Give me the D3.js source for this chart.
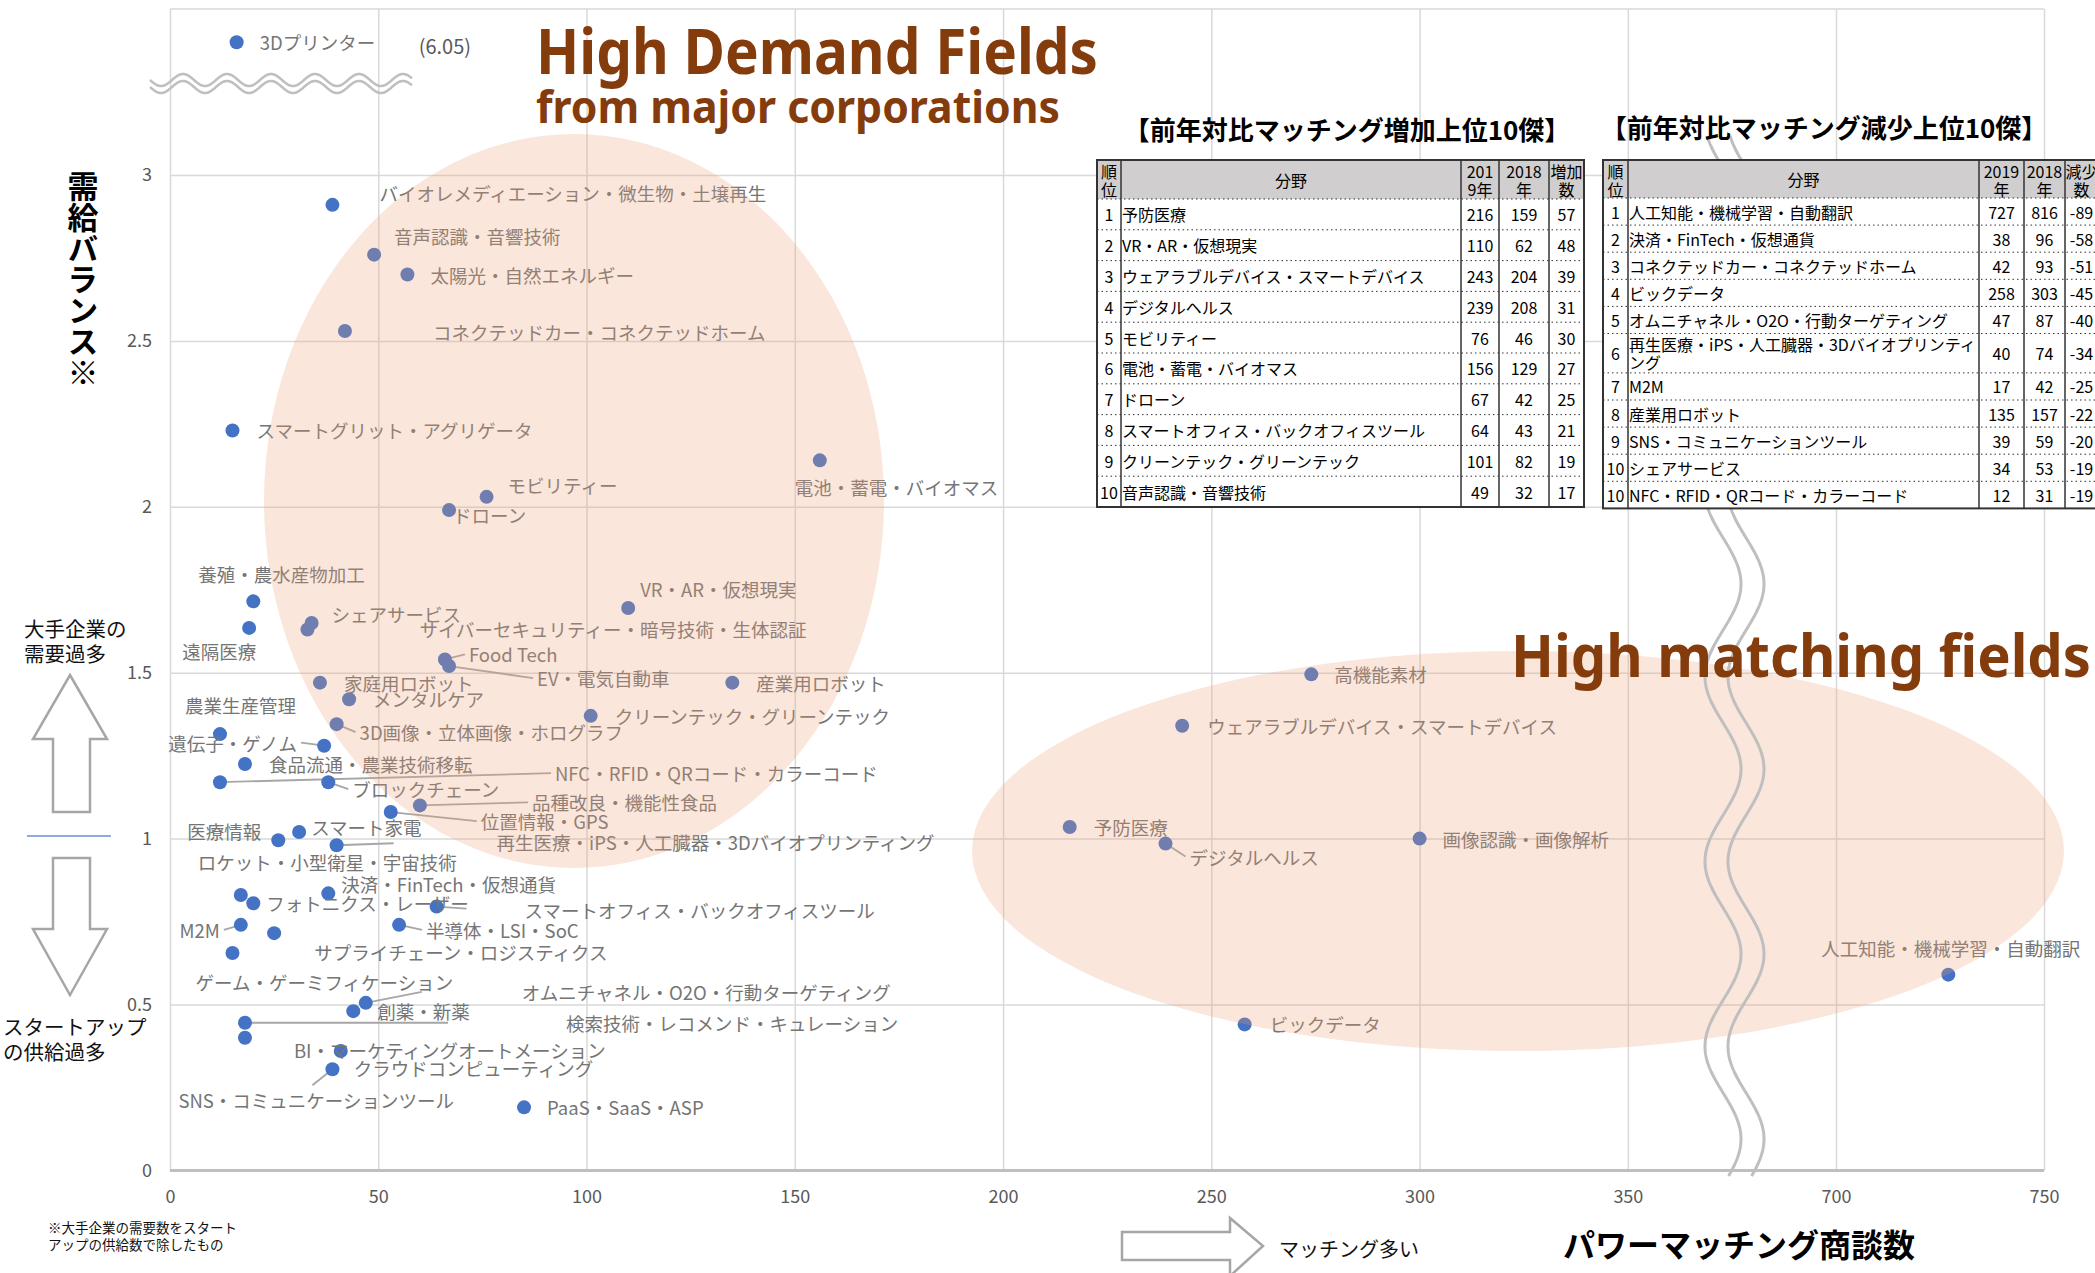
<!DOCTYPE html>
<html>
<head>
<meta charset="utf-8">
<script src="https://cdn.jsdelivr.net/npm/d3@7"></script>
<style>
  body { margin: 0; background: #fff; }
  svg { display: block; }
</style>
</head>
<body>
<script>
// ---- scatter data: field, 2019 matching count, demand/supply balance ----
const fields = [
  'バイオレメディエーション・微生物・土壌再生', '音声認識・音響技術', '太陽光・自然エネルギー',
  'コネクテッドカー・コネクテッドホーム', 'スマートグリット・アグリゲータ', '電池・蓄電・バイオマス',
  'モビリティー', 'ドローン', '養殖・農水産物加工', '遠隔医療', 'シェアサービス',
  'サイバーセキュリティー・暗号技術・生体認証', 'VR・AR・仮想現実', 'Food Tech', 'EV・電気自動車',
  '産業用ロボット', '家庭用ロボット', 'メンタルケア', 'クリーンテック・グリーンテック',
  '3D画像・立体画像・ホログラフ', '農業生産管理', '遺伝子・ゲノム', '食品流通・農業技術移転',
  'NFC・RFID・QRコード・カラーコード', 'ブロックチェーン', '品種改良・機能性食品', '位置情報・GPS',
  'スマート家電', '医療情報', '再生医療・iPS・人工臓器・3Dバイオプリンティング',
  'ロケット・小型衛星・宇宙技術', 'フォトニクス・レーザー', '決済・FinTech・仮想通貨',
  'スマートオフィス・バックオフィスツール', 'M2M', '半導体・LSI・SoC', 'サプライチェーン・ロジスティクス',
  'ゲーム・ゲーミフィケーション', 'オムニチャネル・O2O・行動ターゲティング', '創薬・新薬',
  '検索技術・レコメンド・キュレーション', 'BI・マーケティングオートメーション', 'クラウドコンピューティング',
  'SNS・コミュニケーションツール', 'PaaS・SaaS・ASP', '高機能素材', 'ウェアラブルデバイス・スマートデバイス',
  '予防医療', 'デジタルヘルス', '画像認識・画像解析', '人工知能・機械学習・自動翻訳', 'ビックデータ',
  '3Dプリンター'
];
const matching = [
  39, 49, 57, 42, 15, 156, 76, 67, 20, 19, 34, 33, 110, 66, 67, 135, 36, 43, 101, 40, 12, 37, 18,
  12, 38, 60, 53, 31, 26, 40, 17, 20, 38, 64, 17, 55, 25, 15, 47, 44, 18, 18, 41, 39, 85,
  274, 243, 216, 239, 300, 727, 258, 16
];
const balance = [
  2.91, 2.76, 2.70, 2.53, 2.23, 2.14, 2.03, 1.99, 1.715, 1.635, 1.65, 1.63, 1.695, 1.54, 1.52,
  1.47, 1.47, 1.42, 1.37, 1.345, 1.315, 1.28, 1.225, 1.17, 1.17, 1.10, 1.08, 1.02, 0.995, 0.98,
  0.83, 0.805, 0.835, 0.795, 0.74, 0.74, 0.715, 0.655, 0.505, 0.48, 0.445, 0.40, 0.36, 0.305, 0.19,
  1.495, 1.34, 1.035, 0.985, 1.0, 0.59, 0.44, 6.05
];

// axis ticks
const xTicks = [0, 50, 100, 150, 200, 250, 300, 350, 700, 750];
const yTicks = [0, 0.5, 1, 1.5, 2, 2.5, 3];

// ---- tables ----
const incRank = [1, 2, 3, 4, 5, 6, 7, 8, 9, 10];
const incField = ['予防医療', 'VR・AR・仮想現実', 'ウェアラブルデバイス・スマートデバイス', 'デジタルヘルス',
  'モビリティー', '電池・蓄電・バイオマス', 'ドローン', 'スマートオフィス・バックオフィスツール',
  'クリーンテック・グリーンテック', '音声認識・音響技術'];
const inc2019 = [216, 110, 243, 239, 76, 156, 67, 64, 101, 49];
const inc2018 = [159, 62, 204, 208, 46, 129, 42, 43, 82, 32];
const incDiff = [57, 48, 39, 31, 30, 27, 25, 21, 19, 17];

const decRank = [1, 2, 3, 4, 5, 6, 7, 8, 9, 10, 10];
const decField = ['人工知能・機械学習・自動翻訳', '決済・FinTech・仮想通貨', 'コネクテッドカー・コネクテッドホーム',
  'ビックデータ', 'オムニチャネル・O2O・行動ターゲティング', '再生医療・iPS・人工臓器・3Dバイオプリンティング',
  'M2M', '産業用ロボット', 'SNS・コミュニケーションツール', 'シェアサービス', 'NFC・RFID・QRコード・カラーコード'];
const dec2019 = [727, 38, 42, 258, 47, 40, 17, 135, 39, 34, 12];
const dec2018 = [816, 96, 93, 303, 87, 74, 42, 157, 59, 53, 31];
const decDiff = [-89, -58, -51, -45, -40, -34, -25, -22, -20, -19, -19];

// label placement relative to each dot: [dx, dy, anchor, leader end]
const labelLayout = [
  [47, -12], [20, -19], [23, 0], [88, 1], [24, 0], [-25, 27], [21, -12], [4, 5], [-55, -27],
  [-67, 23], [20, -9], [112, -1], [12, -19], [24, -5, 'start', 'auto'], [88, 12, 'start', 'auto'],
  [24, 0], [24, 0], [24, 0], [24, 0], [23, 8, 'start', 'auto'], [-35, -29],
  [-27, -3, 'end', 'auto'], [24, 0], [335, -9, 'start', 'auto'], [24, 7, 'start', 'auto'],
  [112, -3, 'start', 'auto'], [90, 9, 'start', 'auto'], [12, -5], [-91, -9],
  [160, -3, 'start', [57, -2]], [-43, -33], [13, 0], [13, -9], [88, 3, 'start', [30, 2]],
  [-21, 5, 'end', 'auto'], [27, 5, 'start', 'auto'], [40, 19], [-37, 29],
  [156, -11, 'start', [56, -11]], [24, 0], [321, 0, 'start', [203, 0]], [49, 12], [13, 17],
  [-154, 31, 'start', [-20, 16]], [23, 0], [23, 0], [25, 0], [24, 0], [24, 13, 'start', [20, 13]],
  [23, 0], [132, -27, 'end'], [25, 0], [23, 0]
];

const W = 2095, H = 1273;
const FONT = '"Noto Sans CJK JP", "Noto Sans", sans-serif';

// broken x axis: 375..675 collapsed
const x = d3.scaleLinear().domain([0, 375, 675, 750]).range([170, 1732, 1732, 2044]);
// broken y axis: 3.3..5.95 collapsed
const unit = 331.8, y0 = 1170.4;
const y = d3.scaleLinear().domain([0, 3.3, 5.95, 6.15])
  .range([y0, y0 - 3.3 * unit, y0 - 3.3 * unit, y0 - 3.5 * unit]);

const plot = { left: x(0), right: x(750), top: y(6.15), bottom: y(0) };

const svg = d3.select('body').append('svg')
  .attr('width', W).attr('height', H)
  .style('font-family', FONT);

// gridlines + tick labels
svg.append('g')
  .attr('transform', `translate(0,${plot.bottom})`)
  .call(d3.axisBottom(x).tickValues(xTicks).tickSize(-(plot.bottom - plot.top)).tickPadding(20).tickFormat(d => d))
  .call(g => g.select('.domain').remove())
  .call(g => g.selectAll('line').attr('stroke', '#D9D9D9').attr('stroke-width', 1.5))
  .call(g => g.selectAll('text').attr('fill', '#595959').attr('font-size', 18).attr('font-family', FONT));

svg.append('g')
  .attr('transform', `translate(${plot.left},0)`)
  .call(d3.axisLeft(y).tickValues(yTicks).tickSize(-(plot.right - plot.left)).tickPadding(18).tickFormat(d => String(d)))
  .call(g => g.select('.domain').remove())
  .call(g => g.selectAll('line').attr('stroke', '#D9D9D9').attr('stroke-width', 1.5))
  .call(g => g.selectAll('text').attr('fill', '#595959').attr('font-size', 18).attr('font-family', FONT));

svg.append('line')
  .attr('x1', plot.left).attr('x2', plot.right).attr('y1', plot.top).attr('y2', plot.top)
  .attr('stroke', '#D9D9D9').attr('stroke-width', 1.5);
svg.append('line')
  .attr('x1', plot.left).attr('x2', plot.right).attr('y1', plot.bottom).attr('y2', plot.bottom)
  .attr('stroke', '#BFBFBF').attr('stroke-width', 3);

// dots, labels, leader lines
const dots = fields.map((f, i) => ({ name: f, mx: matching[i], bal: balance[i], lay: labelLayout[i] }));

const leaders = svg.append('g');
dots.forEach(d => {
  const [dx, dy, anchor = 'start', lead] = d.lay;
  if (!lead) return;
  const end = lead === 'auto' ? [anchor === 'end' ? dx + 4 : dx - 4, dy] : lead;
  leaders.append('line')
    .attr('x1', x(d.mx)).attr('y1', y(d.bal))
    .attr('x2', x(d.mx) + end[0]).attr('y2', y(d.bal) + end[1])
    .attr('stroke', '#A6A6A6').attr('stroke-width', 1.8);
});

svg.append('g').selectAll('circle')
  .data(dots).join('circle')
  .attr('cx', d => x(d.mx)).attr('cy', d => y(d.bal)).attr('r', 7)
  .attr('fill', '#4472C4');

svg.append('g').selectAll('text')
  .data(dots).join('text')
  .attr('x', d => x(d.mx) + d.lay[0])
  .attr('y', d => y(d.bal) + d.lay[1])
  .attr('text-anchor', d => d.lay[2] || 'start')
  .attr('dominant-baseline', 'central')
  .attr('font-size', 18.5)
  .attr('fill', '#757575')
  .text(d => d.name);

// value of the off-scale dot
const printer = dots[dots.length - 1];
svg.append('text')
  .attr('x', x(printer.mx) + 182).attr('y', y(printer.bal) + 3)
  .attr('dominant-baseline', 'central')
  .attr('font-size', 20).attr('fill', '#595959')
  .text('(' + printer.bal.toFixed(2) + ')');

// translucent highlight ellipses
svg.append('ellipse')
  .attr('cx', 574).attr('cy', 501).attr('rx', 310).attr('ry', 367)
  .attr('fill', 'rgb(236,160,114)').attr('fill-opacity', 0.26);
svg.append('ellipse')
  .attr('cx', 1518).attr('cy', 851).attr('rx', 546).attr('ry', 200)
  .attr('fill', 'rgb(236,160,114)').attr('fill-opacity', 0.26);

// axis break marks
const line = d3.line();
[1723, 1746].forEach(cx => {
  const pts = d3.range(136, 1177, 2).map(yy => [cx + 18 * Math.cos(2 * Math.PI * (yy - 584) / 185), yy]);
  svg.append('path').attr('d', line(pts))
    .attr('fill', 'none').attr('stroke', '#BFBFBF').attr('stroke-width', 3);
});
[80, 87].forEach(cy => {
  const pts = d3.range(150, 414, 2).map(xx => [xx, cy + 6 * Math.sin(2 * Math.PI * (xx - 150) / 44)]);
  svg.append('path').attr('d', line(pts))
    .attr('fill', 'none').attr('stroke', '#BFBFBF').attr('stroke-width', 2.5);
});

// ---- tables ----
function drawTable(cfg) {
  const g = svg.append('g');
  const { cols, top, headH, rowH, wrapH, header, rows, fs } = cfg;
  const left = cols[0], right = cols[cols.length - 1];

  // measure for wrapping
  const probe = g.append('text').attr('font-size', fs);
  const fieldW = cols[2] - cols[1] - 4;
  const lines = rows.map(r => {
    probe.text(r[1]);
    if (probe.node().getComputedTextLength() <= fieldW) return [r[1]];
    const chars = Array.from(r[1]);
    let a = '';
    for (const c of chars) {
      probe.text(a + c);
      if (probe.node().getComputedTextLength() > fieldW) break;
      a += c;
    }
    return [a, r[1].slice(a.length)];
  });
  probe.remove();

  const heights = lines.map(l => l.length > 1 ? wrapH : rowH);
  const ys = [top + headH];
  heights.forEach(h => ys.push(ys[ys.length - 1] + h));
  const bottom = ys[ys.length - 1];

  g.append('rect').attr('x', left).attr('y', top).attr('width', right - left).attr('height', bottom - top)
    .attr('fill', '#fff');
  g.append('rect').attr('x', left).attr('y', top).attr('width', right - left).attr('height', headH)
    .attr('fill', '#D0CECE');

  // dotted row separators
  ys.slice(0, -1).forEach(yy => {
    g.append('line').attr('x1', left).attr('x2', right).attr('y1', yy).attr('y2', yy)
      .attr('stroke', '#333').attr('stroke-width', 1).attr('stroke-dasharray', '1.5,3');
  });
  // column lines
  cols.slice(1, -1).forEach(cx => {
    g.append('line').attr('x1', cx).attr('x2', cx).attr('y1', top).attr('y2', bottom)
      .attr('stroke', '#333').attr('stroke-width', 1.5);
  });
  g.append('rect').attr('x', left).attr('y', top).attr('width', right - left).attr('height', bottom - top)
    .attr('fill', 'none').attr('stroke', '#333').attr('stroke-width', 2);

  // header
  header.forEach((h, ci) => {
    const cx = (cols[ci] + cols[ci + 1]) / 2 + (cfg.headShift && cfg.headShift[ci] || 0);
    const parts = h.split('\n');
    parts.forEach((p, k) => {
      g.append('text')
        .attr('x', cx)
        .attr('y', parts.length > 1 ? top + 11 + k * 18 : top + headH / 2)
        .attr('text-anchor', 'middle').attr('dominant-baseline', 'central')
        .attr('font-size', fs).attr('fill', '#000').text(p);
    });
  });

  // body
  rows.forEach((r, ri) => {
    const mid = (ys[ri] + ys[ri + 1]) / 2;
    r.forEach((v, ci) => {
      if (ci === 1) {
        const ls = lines[ri];
        ls.forEach((t, k) => {
          g.append('text')
            .attr('x', cols[1] + 1)
            .attr('y', ls.length > 1 ? mid - 9 + k * 18 : mid)
            .attr('dominant-baseline', 'central')
            .attr('font-size', fs).attr('fill', '#000').text(t);
        });
      } else {
        const cx = (cols[ci] + cols[ci + 1]) / 2 + (cfg.bodyShift && cfg.bodyShift[ci] || 0);
        g.append('text')
          .attr('x', cx).attr('y', mid)
          .attr('text-anchor', 'middle').attr('dominant-baseline', 'central')
          .attr('font-size', fs).attr('fill', '#000').text(v);
      }
    });
  });

  g.append('text')
    .attr('x', cfg.titleX).attr('y', cfg.titleY)
    .attr('text-anchor', 'middle')
    .attr('font-size', 26).attr('font-weight', 'bold').attr('fill', '#000')
    .text(cfg.title);
}

drawTable({
  title: '【前年対比マッチング増加上位10傑】', titleX: 1347, titleY: 140,
  cols: [1097, 1121, 1461, 1499, 1549, 1584],
  top: 160, headH: 39, rowH: 30.8, wrapH: 40, fs: 16,
  header: ['順\n位', '分野', '201\n9年', '2018\n年', '増加\n数'],
  rows: incRank.map((r, i) => [r, incField[i], inc2019[i], inc2018[i], incDiff[i]])
});

drawTable({
  title: '【前年対比マッチング減少上位10傑】', titleX: 1824, titleY: 138,
  cols: [1603, 1628, 1979, 2024, 2065, 2112],
  top: 160, headH: 38, rowH: 27.1, wrapH: 39.4, fs: 16,
  header: ['順\n位', '分野', '2019\n年', '2018\n年', '減少\n数'],
  headShift: [0, 0, 0, 0, -7], bodyShift: [0, 0, 0, 0, -7],
  rows: decRank.map((r, i) => [r, decField[i], dec2019[i], dec2018[i], decDiff[i]])
});

// ---- headline texts ----
const brown = '#843C0C';
svg.append('text').attr('x', 536).attr('y', 74)
  .attr('font-family', '"Noto Sans", "Open Sans", sans-serif')
  .attr('font-size', 62).attr('font-weight', 'bold').attr('fill', brown)
  .attr('textLength', 562).attr('lengthAdjust', 'spacingAndGlyphs')
  .text('High Demand Fields');
svg.append('text').attr('x', 536).attr('y', 123)
  .attr('font-family', '"Noto Sans", "Open Sans", sans-serif')
  .attr('font-size', 44).attr('font-weight', 'bold').attr('fill', brown)
  .attr('textLength', 524).attr('lengthAdjust', 'spacingAndGlyphs')
  .text('from major corporations');
svg.append('text').attr('x', 1511).attr('y', 677)
  .attr('font-family', '"Noto Sans", "Open Sans", sans-serif')
  .attr('font-size', 60).attr('font-weight', 'bold').attr('fill', brown)
  .attr('textLength', 580).attr('lengthAdjust', 'spacingAndGlyphs')
  .text('High matching fields');

// ---- axis titles and side notes ----
svg.append('text')
  .attr('x', 83).attr('y', 171)
  .style('writing-mode', 'vertical-rl')
  .attr('font-size', 31).attr('font-weight', 'bold').attr('fill', '#000')
  .text('需給バランス※');

const note = (t, xx, yy, fs, extra) => {
  const el = svg.append('text').attr('x', xx).attr('y', yy)
    .attr('dominant-baseline', 'central').attr('font-size', fs).attr('fill', '#111').text(t);
  if (extra) extra(el);
  return el;
};
note('大手企業の', 24, 628, 20.5);
note('需要過多', 24, 653, 20.5);
note('スタートアップ', 3, 1026, 20.5);
note('の供給過多', 3, 1051, 20.5);
note('※大手企業の需要数をスタート', 48, 1227, 13.5);
note('アップの供給数で除したもの', 48, 1244, 13.5);
note('マッチング多い', 1279, 1248, 20);
note('パワーマッチング商談数', 1563, 1243, 32, el => el.attr('font-weight', 'bold').attr('fill', '#000'));

// arrows
const arrowStyle = p => p.attr('fill', '#fff').attr('stroke', '#A6A6A6').attr('stroke-width', 2.5);
arrowStyle(svg.append('path').attr('d', 'M70,675 L107,739 L90,739 L90,812 L53,812 L53,739 L33,739 Z'));
arrowStyle(svg.append('path').attr('d', 'M70,995 L107,929 L90,929 L90,858 L53,858 L53,929 L33,929 Z'));
arrowStyle(svg.append('path').attr('d', 'M1122,1232 L1230,1232 L1230,1218 L1263,1246 L1230,1276 L1230,1260 L1122,1260 Z'));
svg.append('line').attr('x1', 27).attr('x2', 111).attr('y1', 836).attr('y2', 836)
  .attr('stroke', '#8FAADC').attr('stroke-width', 2);
</script>
</body>
</html>
